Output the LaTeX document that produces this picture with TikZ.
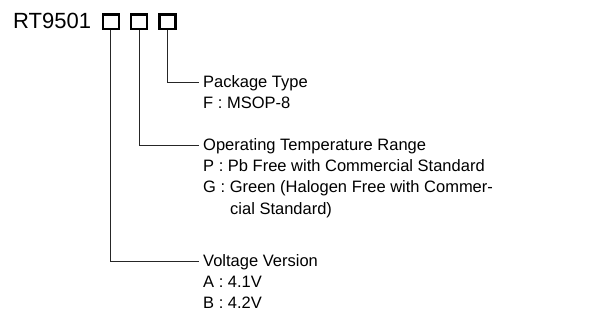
\documentclass[tikz,border=0pt]{standalone}
\usepackage{fontspec}
\setmainfont{Liberation Sans}
\begin{document}
\begin{tikzpicture}[x=1pt,y=-1pt]
	\tikzstyle{digit}=[rectangle,draw=black,line width=2.2pt,minimum width=16pt,minimum height=14.5pt,inner sep=0pt]
	\tikzstyle{title}=[anchor=base west,inner xsep=4pt,inner ysep=0pt,text height=12pt,text depth=0pt,font=\fontsize{16.5}{21}\selectfont]
	\tikzstyle{option}=[anchor=base west,inner sep=0pt,font=\fontsize{16.5}{21.5}\selectfont]
	\tikzstyle{lead}=[line width=0.8pt,black!85]
	\useasboundingbox (0,0) rectangle (616,320);
	\node[anchor=base west,inner sep=0pt,font=\fontsize{22}{22}\selectfont] (PN) at (13,29) {RT9501};
	\node[digit] (D1) at (110.8,21.7) {};
	\node[digit] (D2) at (139.2,21.7) {};
	\node[digit] (D3) at (167.5,21.7) {};

	\node[title] (T3) at (199,88) {Package Type};
	\node[option] (F) at (203,109) {F : MSOP-8};

	\node[title] (T2) at (199,151) {Operating Temperature Range};
	\node[option] (P) at (203,172) {P : Pb Free with Commercial Standard};
	\node[option] (G) at (203,193) {G : Green (Halogen Free with Commer-};
	\node[option] (G2) at (230,214.5) {cial Standard)};

	\node[title] (T1) at (199,267) {Voltage Version};
	\node[option] (A) at (203,288) {A : 4.1V};
	\node[option] (B) at (203,309) {B : 4.2V};

	\draw[lead] (D3.south) |- (T3.west);
	\draw[lead] (D2.south) |- (T2.west);
	\draw[lead] (D1.south) |- (T1.west);
\end{tikzpicture}
\end{document}
